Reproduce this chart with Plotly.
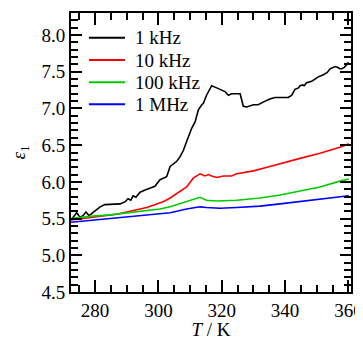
import plotly.graph_objects as go

# 1 kHz
T_1k = [272.4, 274.2, 275.2, 276.2, 277.1, 278.1, 279.3, 281.6, 283.1, 286.3, 287.9, 289.5, 290.4, 291.3,
        292.0, 292.9, 294.2, 295.8, 297.4, 298.9, 300.5, 302.6, 303.7, 304.7, 305.8, 306.8, 307.9, 308.9,
        310.5, 311.6, 312.6, 313.7, 314.2, 315.2, 316.8, 318.4, 319.4, 321.0, 322.1, 323.1, 325.8, 326.3,
        326.8, 327.9, 328.9, 330.0, 331.5, 332.6, 333.7, 335.2, 336.8, 341.0, 342.1, 343.1, 344.2, 344.7,
        345.6, 346.0, 346.8, 348.4, 349.4, 350.5, 352.1, 353.3, 354.2, 355.8, 356.5, 357.3, 357.9, 358.7,
        359.5, 360.0]
E_1k = [5.48, 5.58, 5.52, 5.54, 5.59, 5.54, 5.58, 5.66, 5.69, 5.70, 5.70, 5.73, 5.77, 5.75,
        5.81, 5.79, 5.86, 5.89, 5.92, 5.94, 6.03, 6.07, 6.21, 6.24, 6.28, 6.34, 6.43, 6.55,
        6.73, 6.82, 6.98, 7.05, 7.07, 7.18, 7.31, 7.28, 7.26, 7.23, 7.18, 7.20, 7.20, 7.09,
        7.03, 7.02, 7.03, 7.05, 7.05, 7.08, 7.10, 7.13, 7.15, 7.15, 7.18, 7.26, 7.28, 7.31,
        7.32, 7.31, 7.35, 7.37, 7.40, 7.43, 7.46, 7.49, 7.54, 7.57, 7.56, 7.54, 7.54, 7.56,
        7.60, 7.63]

# 10 kHz
T_10k = [272.4, 280.5, 286.8, 292.1, 296.3, 299.5, 301.5, 303.7, 306.8, 308.9, 311.0, 313.1, 314.7,
         315.8, 316.8, 318.4, 320.5, 323.1, 324.7, 330.0, 335.2, 338.4, 344.7, 351.0, 357.3, 360.1]
E_10k = [5.48, 5.52, 5.56, 5.61, 5.65, 5.70, 5.73, 5.78, 5.87, 5.93, 6.05, 6.11, 6.08,
         6.10, 6.08, 6.06, 6.08, 6.08, 6.11, 6.15, 6.21, 6.25, 6.32, 6.39, 6.47, 6.52]

# 100 kHz
T_100k = [272.4, 278.4, 284.7, 291.0, 296.3, 300.5, 303.7, 307.9, 311.0, 313.1, 315.2, 318.4, 324.7,
          332.1, 338.4, 344.7, 351.0, 357.3, 360.1]
E_100k = [5.50, 5.53, 5.55, 5.58, 5.61, 5.63, 5.66, 5.72, 5.76, 5.79, 5.75, 5.74, 5.75,
          5.78, 5.82, 5.88, 5.93, 6.01, 6.04]

# 1 MHz
T_1M = [272.4, 282.6, 293.1, 299.5, 303.7, 308.9, 313.1, 315.2, 319.4, 324.7, 332.1, 338.4, 344.7,
        353.1, 360.1]
E_1M = [5.45, 5.49, 5.53, 5.56, 5.58, 5.63, 5.66, 5.65, 5.64, 5.65, 5.67, 5.70, 5.73,
        5.77, 5.81]

series_names = ["1 kHz", "10 kHz", "100 kHz", "1 MHz"]
series_colors = ["#000000", "#ff0000", "#00cc00", "#0000ff"]
series_T = [T_1k, T_10k, T_100k, T_1M]
series_E = [E_1k, E_10k, E_100k, E_1M]

FONT = "Liberation Serif"

fig = go.Figure()
for name, col, tx, ey in zip(series_names, series_colors, series_T, series_E):
    fig.add_trace(go.Scatter(x=tx, y=ey, mode="lines", name=name,
                             line=dict(color=col, width=1.6), showlegend=False))

# legend drawn as keys in paper coordinates (layout only)
leg_x0, leg_x1, leg_tx = 0.064, 0.193, 0.221
leg_y0, leg_dy = 0.911, 0.0795
for i, (name, col) in enumerate(zip(series_names, series_colors)):
    yy = leg_y0 - i * leg_dy
    fig.add_shape(type="line", xref="paper", yref="paper", x0=leg_x0, x1=leg_x1, y0=yy, y1=yy,
                  line=dict(color=col, width=2))
    fig.add_annotation(xref="paper", yref="paper", x=leg_tx, y=yy, text=name, showarrow=False,
                       xanchor="left", yanchor="middle",
                       font=dict(family=FONT, size=19, color="black"))

axis_common = dict(
    showline=True, linecolor="black", linewidth=2, mirror="allticks",
    ticks="inside", tickcolor="black", tickwidth=2, showgrid=False, zeroline=False,
    tickfont=dict(family=FONT, size=19, color="black"), automargin=False,
)

fig.update_xaxes(
    range=[272.4, 360.8], dtick=20, tick0=0, ticklen=12,
    minor=dict(dtick=5, tick0=0, ticks="inside", ticklen=7, tickcolor="black", tickwidth=2),
    title=dict(text="<i>T</i> / K", font=dict(family=FONT, size=19, color="black"), standoff=4),
    **axis_common,
)
fig.update_yaxes(
    range=[4.5, 8.3], dtick=0.5, tick0=0, ticklen=11, tickformat=".1f",
    minor=dict(dtick=0.1, tick0=0, ticks="inside", ticklen=7, tickcolor="black", tickwidth=2),
    title=dict(text="<i>ε</i><sub>1</sub>", font=dict(family=FONT, size=19, color="black"), standoff=14),
    **axis_common,
)

fig.update_layout(
    width=355, height=332,
    margin=dict(l=63, r=12, t=5, b=48, autoexpand=False),
    plot_bgcolor="white", paper_bgcolor="white",
    font=dict(family=FONT, size=19, color="black"),
    showlegend=False,
)

fig.write_html("out.html")
